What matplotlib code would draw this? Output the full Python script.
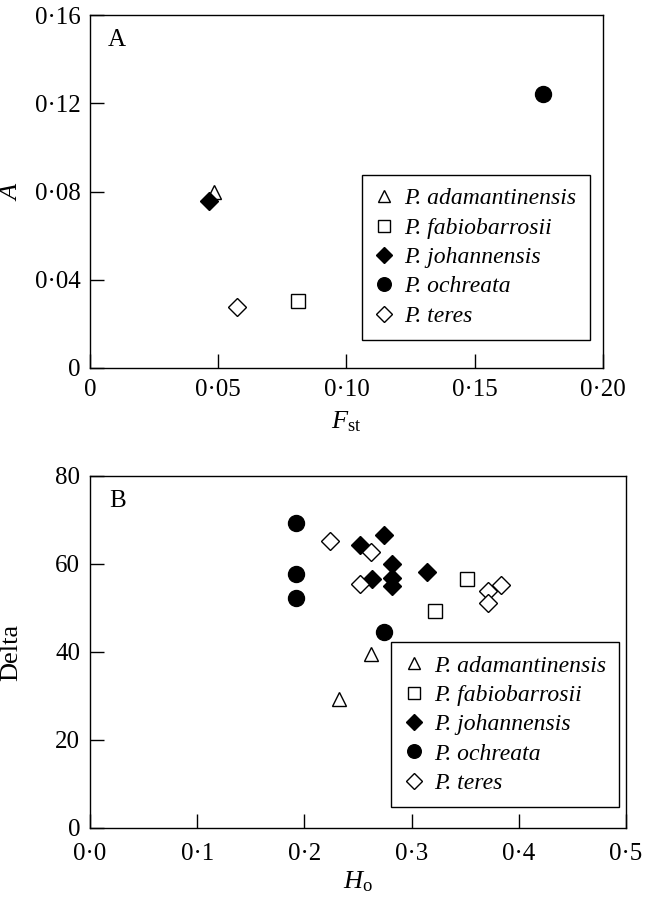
import matplotlib
matplotlib.use("Agg")
import matplotlib.pyplot as plt
from matplotlib.ticker import FixedLocator, FixedFormatter

plt.rcParams['font.family'] = ['Liberation Serif', 'DejaVu Serif']
plt.rcParams['mathtext.fontset'] = 'custom'
plt.rcParams['mathtext.rm'] = 'Liberation Serif'
plt.rcParams['mathtext.it'] = 'Liberation Serif:italic'

species = ["P. adamantinensis", "P. fabiobarrosii", "P. johannensis", "P. ochreata", "P. teres"]

# Panel A: Fst vs A
fst_A = {"P. adamantinensis": [0.0483], "P. fabiobarrosii": [0.081],
         "P. johannensis": [0.0463], "P. ochreata": [0.1765], "P. teres": [0.0573]}
a_A = {"P. adamantinensis": [0.0797], "P. fabiobarrosii": [0.0305],
       "P. johannensis": [0.0759], "P. ochreata": [0.1242], "P. teres": [0.0278]}

# Panel B: Ho vs Delta
ho_B = {"P. adamantinensis": [0.262, 0.232],
        "P. fabiobarrosii": [0.352, 0.322],
        "P. johannensis": [0.274, 0.252, 0.282, 0.314, 0.263, 0.282, 0.282],
        "P. ochreata": [0.192, 0.192, 0.192, 0.274],
        "P. teres": [0.224, 0.262, 0.252, 0.371, 0.383, 0.371]}
delta_B = {"P. adamantinensis": [39.5, 29.3],
           "P. fabiobarrosii": [56.7, 49.3],
           "P. johannensis": [66.6, 64.4, 59.9, 58.2, 56.5, 56.9, 55.0],
           "P. ochreata": [69.3, 57.8, 52.2, 44.6],
           "P. teres": [65.3, 62.7, 55.5, 53.8, 55.2, 51.2]}

xticks_A = [0, 0.05, 0.10, 0.15, 0.20]
xlabels_A = ["0", "0·05", "0·10", "0·15", "0·20"]
yticks_A = [0, 0.04, 0.08, 0.12, 0.16]
ylabels_A = ["0", "0·04", "0·08", "0·12", "0·16"]
xticks_B = [0, 0.1, 0.2, 0.3, 0.4, 0.5]
xlabels_B = ["0·0", "0·1", "0·2", "0·3", "0·4", "0·5"]
yticks_B = [0, 20, 40, 60, 80]
ylabels_B = ["0", "20", "40", "60", "80"]

styles = {
    "P. adamantinensis": dict(marker="^", mfc="white", mec="black", ms=10, mew=1.0),
    "P. fabiobarrosii": dict(marker="s", mfc="white", mec="black", ms=10, mew=1.0),
    "P. johannensis": dict(marker="D", mfc="black", mec="black", ms=9.5, mew=1.0),
    "P. ochreata": dict(marker="o", mfc="black", mec="black", ms=11.5, mew=1.0),
    "P. teres": dict(marker="D", mfc="white", mec="black", ms=9.5, mew=1.0),
}

FS = 18
fig = plt.figure(figsize=(6.5, 9), dpi=100)
W, H = 650, 900
axA = fig.add_axes([90 / W, 1 - 368 / H, (603 - 90) / W, (368 - 15) / H])
axB = fig.add_axes([90 / W, 1 - 828 / H, (626 - 90) / W, (828 - 476) / H])


def style_axis(ax, xt, xl, yt, yl, xlim, ylim, xpad):
    ax.set_xlim(*xlim)
    ax.set_ylim(*ylim)
    ax.xaxis.set_major_locator(FixedLocator(xt))
    ax.xaxis.set_major_formatter(FixedFormatter(xl))
    ax.yaxis.set_major_locator(FixedLocator(yt))
    ax.yaxis.set_major_formatter(FixedFormatter(yl))
    ax.tick_params(direction="in", length=10, width=1.0, labelsize=FS)
    ax.tick_params(axis="x", pad=xpad)
    ax.tick_params(axis="y", pad=7)
    for s in ax.spines.values():
        s.set_linewidth(1.0)


for sp in species:
    axA.plot(fst_A[sp], a_A[sp], linestyle="none", label=sp, **styles[sp])
    axB.plot(ho_B[sp], delta_B[sp], linestyle="none", label=sp, **styles[sp])

style_axis(axA, xticks_A, xlabels_A, yticks_A, ylabels_A, (0, 0.20), (0, 0.16), 8)
style_axis(axB, xticks_B, xlabels_B, yticks_B, ylabels_B, (0, 0.5), (0, 80), 11)

axA.set_xlabel(r"$\mathit{F}_{\mathrm{st}}$", fontsize=FS + 1, labelpad=6)
axA.set_ylabel(r"$\mathit{A}$", fontsize=FS + 1)
axB.set_xlabel(r"$\mathit{H}_{\mathrm{o}}$", fontsize=FS + 1, labelpad=3)
axB.set_ylabel("Delta", fontsize=FS + 1)
axA.yaxis.set_label_coords((22 - 90) / 513, 0.5)
axB.yaxis.set_label_coords((22 - 90) / 536, 0.5)

axA.text(0.035, 0.93, "A", transform=axA.transAxes, fontsize=FS, va="center")
axB.text(0.035, 0.93, "B", transform=axB.transAxes, fontsize=FS, va="center")

leg_kw = dict(frameon=True, fancybox=False, framealpha=1,
              edgecolor="black", handlelength=0.8, handletextpad=0.45,
              labelspacing=0.33, borderpad=0.55, borderaxespad=0, numpoints=1,
              markerscale=0.85, prop={"style": "italic", "size": FS - 1})
legA = axA.legend(loc="lower right", bbox_to_anchor=(0.974, 0.080), **leg_kw)
legB = axB.legend(loc="lower right", bbox_to_anchor=(0.987, 0.060), **leg_kw)
for leg in (legA, legB):
    leg.get_frame().set_linewidth(1.0)

fig.savefig("out.png", dpi=100)
